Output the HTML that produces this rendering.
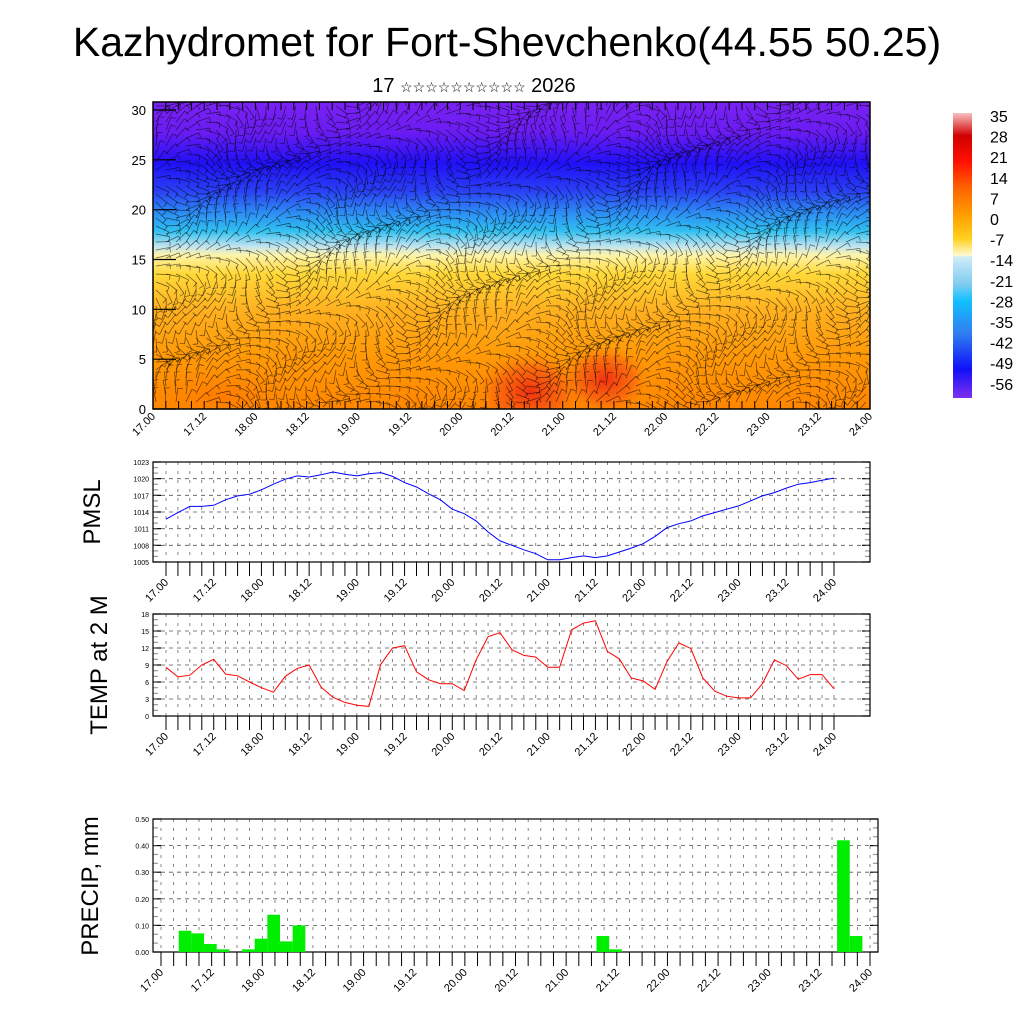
<!DOCTYPE html>
<html><head><meta charset="utf-8"><style>
body{margin:0;background:#fff}
svg text{font-family:"Liberation Sans",sans-serif}
</style></head><body>
<svg id="s" width="1024" height="1024" xmlns="http://www.w3.org/2000/svg">
<defs>
<linearGradient id="fieldGrad" x1="0" y1="0" x2="0" y2="1">
<stop offset="0" stop-color="#7a22f2"/><stop offset="0.1" stop-color="#6a1cf2"/>
<stop offset="0.2" stop-color="#2010f6"/><stop offset="0.29" stop-color="#2a40f4"/>
<stop offset="0.36" stop-color="#2d8cf4"/><stop offset="0.42" stop-color="#30c0f0"/>
<stop offset="0.47" stop-color="#c0e4f0"/><stop offset="0.5" stop-color="#fff4a8"/>
<stop offset="0.56" stop-color="#ffd838"/><stop offset="0.68" stop-color="#ffb020"/>
<stop offset="0.82" stop-color="#ff9a08"/><stop offset="1" stop-color="#ff8600"/>
</linearGradient>
<radialGradient id="redBlob"><stop offset="0" stop-color="#f03010"/><stop offset="0.6" stop-color="#f85a10" stop-opacity="0.7"/><stop offset="1" stop-color="#ff8600" stop-opacity="0"/></radialGradient>
<radialGradient id="orangeBlob"><stop offset="0" stop-color="#ff7000" stop-opacity="0.6"/><stop offset="1" stop-color="#ff8600" stop-opacity="0"/></radialGradient>
<linearGradient id="cbGrad" x1="0" y1="0" x2="0" y2="1">
<stop offset="0" stop-color="#f8c0c0"/><stop offset="0.08" stop-color="#d00000"/>
<stop offset="0.17" stop-color="#ff1000"/><stop offset="0.26" stop-color="#ff6000"/>
<stop offset="0.36" stop-color="#ffa000"/><stop offset="0.44" stop-color="#ffd020"/>
<stop offset="0.5" stop-color="#fffad0"/><stop offset="0.505" stop-color="#d0ecf8"/>
<stop offset="0.6" stop-color="#80ccf0"/><stop offset="0.66" stop-color="#10c0ff"/>
<stop offset="0.77" stop-color="#3080f0"/><stop offset="0.9" stop-color="#1010f8"/>
<stop offset="1" stop-color="#8030f0"/>
</linearGradient>
<clipPath id="fieldClip"><rect x="153" y="102" width="717" height="307"/></clipPath>
</defs>
<text x="507" y="56" font-size="41" text-anchor="middle">Kazhydromet for Fort-Shevchenko(44.55 50.25)</text>
<text x="474" y="92" font-size="20" text-anchor="middle">17 <tspan font-size="14">☆☆☆☆☆☆☆☆☆☆</tspan> 2026</text>
<g id="field"></g>
<g id="cbar"></g>
<g id="pmslPanel"></g>
<g id="tempPanel"></g>
<g id="precPanel"></g>
<text transform="translate(100,512) rotate(-90)" font-size="24" text-anchor="middle">PMSL</text>
<text transform="translate(107,665) rotate(-90)" font-size="24" text-anchor="middle">TEMP at 2 M</text>
<text transform="translate(98,886) rotate(-90)" font-size="24" text-anchor="middle">PRECIP, mm</text>
</svg>
<script>
const timeLabels=["17.00","17.12","18.00","18.12","19.00","19.12","20.00","20.12","21.00","21.12","22.00","22.12","23.00","23.12","24.00"];
const pmsl=[1012.7,1013.9,1015.0,1015.0,1015.2,1016.2,1016.9,1017.2,1018.0,1019.0,1019.9,1020.5,1020.3,1020.7,1021.2,1020.8,1020.5,1020.9,1021.1,1020.4,1019.3,1018.5,1017.3,1016.2,1014.5,1013.7,1012.4,1010.4,1008.8,1008.0,1007.2,1006.5,1005.4,1005.4,1005.8,1006.1,1005.8,1006.1,1006.8,1007.5,1008.3,1009.6,1011.2,1011.9,1012.4,1013.3,1013.9,1014.5,1015.1,1016.0,1016.9,1017.5,1018.3,1019.0,1019.3,1019.7,1020.1];
const temp=[8.6,6.9,7.2,9.0,10.0,7.4,7.1,6.0,5.0,4.2,7.0,8.4,9.0,5.1,3.3,2.4,1.9,1.7,9.1,12.0,12.4,7.8,6.4,5.7,5.7,4.5,9.9,14.0,14.7,11.7,10.7,10.4,8.6,8.6,15.2,16.4,16.8,11.4,10.1,6.7,6.2,4.7,9.6,12.9,11.9,6.7,4.4,3.5,3.2,3.2,5.7,9.9,8.9,6.5,7.3,7.3,4.8];
const precipIdx=[2,3,4,5,7,8,9,10,11,35,36,54,55];
const precipVal=[0.08,0.07,0.03,0.01,0.01,0.05,0.14,0.04,0.10,0.06,0.01,0.42,0.06];
const pmslTicks=[1005,1008,1011,1014,1017,1020,1023];
const tempTicks=[0,3,6,9,12,15,18];
const precTicks=[0,0.1,0.2,0.3,0.4,0.5];
const heightTicks=[0,5,10,15,20,25,30];
const cbLabels=[35,28,21,14,7,0,-7,-14,-21,-28,-35,-42,-49,-56];

const NS="http://www.w3.org/2000/svg";
function mk(p,tag,at){const e=document.createElementNS(NS,tag);for(const k in at)e.setAttribute(k,at[k]);p.appendChild(e);return e;}

function panel(gid,box,x0,x1,ymin,ymax,ticks,fmt,fs){
  const g=document.getElementById(gid);
  const xs=i=>x0+(x1-x0)*i/56;
  const ys=v=>box.b-(v-ymin)/(ymax-ymin)*(box.b-box.t);
  for(let i=0;i<=56;i++){const l=mk(g,'line',{x1:xs(i),x2:xs(i),y1:box.t,y2:box.b,stroke:'#555','stroke-width':0.7,'stroke-dasharray':'3,6'});
    }
  const minorN=(ticks.length-1)*3;
  for(let k=0;k<=minorN;k++){const v=ymin+(ymax-ymin)*k/minorN;const y=ys(v);
    const major=k%3===0;const len=major?8:5;
    const a=mk(g,'line',{x1:box.l,x2:box.l+len,y1:y,y2:y,stroke:major?'#000':'#999','stroke-width':1.2});
    
    const b=mk(g,'line',{x1:box.r-len,x2:box.r,y1:y,y2:y,stroke:major?'#000':'#999','stroke-width':1.2});
    }
  ticks.forEach(v=>{const y=ys(v);
    const l=mk(g,'line',{x1:box.l,x2:box.r,y1:y,y2:y,stroke:'#555','stroke-width':0.8,'stroke-dasharray':'4,4'});
    
    const t=mk(g,'text',{x:box.l-4,y:y+3,'font-size':fs,'text-anchor':'end'});t.textContent=fmt(v);
    });
  const r=mk(g,'rect',{x:box.l,y:box.t,width:box.r-box.l,height:box.b-box.t,fill:'none',stroke:'#000','stroke-width':1.2});
  
  for(let i=0;i<=56;i++){const l=mk(g,'line',{x1:xs(i),x2:xs(i),y1:box.b,y2:box.b+14,stroke:'#000','stroke-width':1});
    }
  timeLabels.forEach((s,j)=>{const x=xs(j*4);const t=mk(g,'text',{transform:`translate(${x+3},${box.b+21}) rotate(-45)`,'font-size':11,'text-anchor':'end'});t.textContent=s;
    });
  return {g,xs,ys};
}
(function(){const p=panel('pmslPanel',{l:153,r:870,t:462,b:562},166,834,1005,1023,pmslTicks,v=>v,7);
  const d=pmsl.map((v,i)=>(i?'L':'M')+p.xs(i).toFixed(1)+','+p.ys(v).toFixed(1)).join('');
  const l=mk(p.g,'path',{d,fill:'none',stroke:'#0000ff','stroke-width':1});
  })();
(function(){const p=panel('tempPanel',{l:153,r:870,t:614,b:716},166,834,0,18,tempTicks,v=>v,7);
  const d=temp.map((v,i)=>(i?'L':'M')+p.xs(i).toFixed(1)+','+p.ys(v).toFixed(1)).join('');
  const l=mk(p.g,'path',{d,fill:'none',stroke:'#ff0000','stroke-width':1});
  })();
(function(){const p=panel('precPanel',{l:153,r:878,t:819,b:952},161,870,0,0.5,precTicks,v=>v.toFixed(2),7);
  const w=p.xs(1)-p.xs(0);
  precipIdx.forEach((i,k)=>{const x=p.xs(i)-0.6*w;const y=p.ys(precipVal[k]);
    const b=mk(p.g,'rect',{x,y,width:w,height:p.ys(0)-y,fill:'#00ee00'});
    });})();
(function(){const g=document.getElementById('field');
  const bg=mk(g,'rect',{x:153,y:102,width:717,height:307,fill:'url(#fieldGrad)'});
  
  const cg=mk(g,'g',{'clip-path':'url(#fieldClip)'});
  [[530,392,55,40],[605,380,45,35]].forEach(c=>{const e=mk(cg,'ellipse',{cx:c[0],cy:c[1],rx:c[2],ry:c[3],fill:'url(#redBlob)'});
    });
  const ob=mk(cg,'ellipse',{cx:220,cy:395,rx:80,ry:30,fill:'url(#orangeBlob)'});
  
  const wg=mk(cg,'g',{stroke:'#000','stroke-opacity':0.6,'stroke-width':0.7});
  
  for(let y=106;y<409;y+=8){for(let x=156;x<870;x+=10){
    const a=Math.sin(x*0.031+y*0.047)*1.2+Math.cos(x*0.013-y*0.029)*0.9+(y<180?0:0.3);
    const L=14;const dx=Math.cos(a)*L,dy=Math.sin(a)*L;
    mk(wg,'line',{x1:x,y1:y,x2:x+dx,y2:y+dy});
    mk(wg,'line',{x1:x+dx,y1:y+dy,x2:x+dx+Math.cos(a+1.6)*5,y2:y+dy+Math.sin(a+1.6)*5});}}
  const r=mk(g,'rect',{x:153,y:102,width:717,height:307,fill:'none',stroke:'#000','stroke-width':1.5});
  
  const ys=v=>409-v*(409-110)/30;
  heightTicks.forEach(v=>{const y=ys(v);
    const t=mk(g,'text',{x:146,y:y+5,'font-size':13,'text-anchor':'end'});t.textContent=v;
    
    const l=mk(g,'line',{x1:153,x2:176,y1:y,y2:y,stroke:'#000','stroke-width':1.2});
    });
  const xs=i=>153+717*i/56;
  for(let i=0;i<=56;i++){mk(g,'line',{x1:xs(i),x2:xs(i),y1:409,y2:401,stroke:'#000'});mk(g,'line',{x1:xs(i),x2:xs(i),y1:102,y2:110,stroke:'#000'});}
  timeLabels.forEach((s,j)=>{const x=xs(j*4);const t=mk(g,'text',{transform:`translate(${x+3},${417}) rotate(-45)`,'font-size':11,'text-anchor':'end'});t.textContent=s;
    });})();
(function(){const g=document.getElementById('cbar');
  const r=mk(g,'rect',{x:953,y:113,width:19,height:285,fill:'url(#cbGrad)'});
  
  cbLabels.forEach((v,i)=>{const t=mk(g,'text',{x:990,y:122+i*20.6,'font-size':16});t.textContent=v;
    });})();
</script>
</body></html>
